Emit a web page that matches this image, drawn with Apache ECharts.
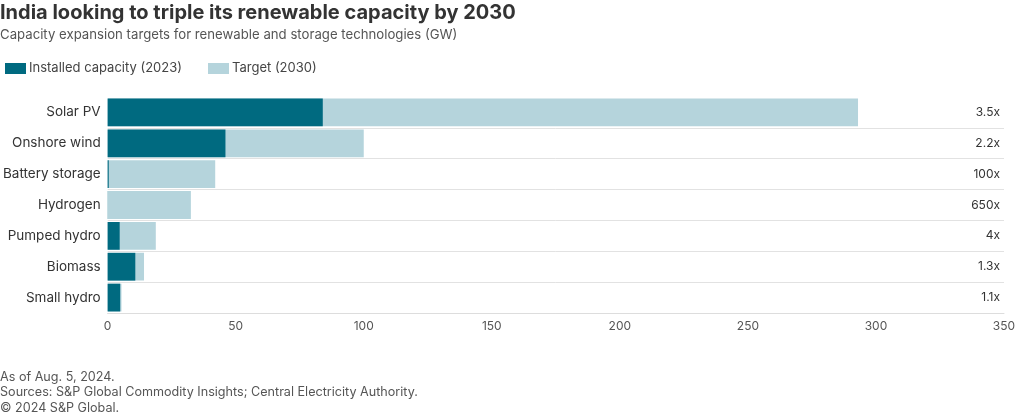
<!DOCTYPE html>
<html>
<head>
<meta charset="utf-8">
<script src="https://cdn.jsdelivr.net/npm/echarts@6/dist/echarts.min.js"></script>
<style>
html,body{margin:0;padding:0;background:#fff;}
#chart{width:1020px;height:415px;}
</style>
</head>
<body>
<div id="chart"></div>
<script>
const categories = ["Solar PV", "Onshore wind", "Battery storage", "Hydrogen", "Pumped hydro", "Biomass", "Small hydro"];
const installed2023 = [84, 46, 0.42, 0.05, 4.7, 10.8, 4.9];
const target2030 = [293, 100, 42, 32.5, 18.8, 14.2, 5.4];
const multipliers = ["3.5x", "2.2x", "100x", "650x", "4x", "1.3x", "1.1x"];
const xTicks = [0, 50, 100, 150, 200, 250, 300, 350];

const FONT = 'Inter, "Noto Sans", sans-serif';
const chart = echarts.init(document.getElementById('chart'));
chart.setOption({
  animation: false,
  textStyle: { fontFamily: FONT },
  title: [
    { text: 'India looking to triple its renewable capacity by 2030', left: -5, top: -2,
      textStyle: { fontSize: 20, fontWeight: 'bold', color: '#333', fontFamily: FONT } },
    { text: 'Capacity expansion targets for renewable and storage technologies (GW)', left: -5, top: 24,
      textStyle: { fontSize: 13.2, fontWeight: 'normal', color: '#555', fontFamily: FONT } },
    { text: 'As of Aug. 5, 2024.\nSources: S&P Global Commodity Insights; Central Electricity Authority.\n© 2024 S&P Global.',
      left: -5, top: 364,
      textStyle: { fontSize: 12.6, fontWeight: 'normal', color: '#555', lineHeight: 15.5, fontFamily: FONT } }
  ],
  legend: {
    left: 0, top: 57, itemWidth: 21, itemHeight: 11, itemGap: 26,
    icon: 'rect',
    data: ['Installed capacity (2023)', 'Target (2030)'],
    textStyle: { fontSize: 13, color: '#444', padding: [0, 0, 0, -2] }
  },
  grid: { left: 106, right: 16, top: 97, bottom: 102, containLabel: false },
  xAxis: {
    type: 'value', min: 0, max: 350, interval: 50,
    axisLine: { show: true, lineStyle: { color: '#ddd' } },
    axisTick: { show: false },
    splitLine: { show: false },
    axisLabel: { color: '#555', fontSize: 12, margin: 7,
      formatter: v => xTicks.includes(v) ? String(v) : '' }
  },
  yAxis: [
    {
      type: 'category', data: categories, inverse: true,
      axisLine: { show: false }, axisTick: { show: false },
      axisLabel: { color: '#333', fontSize: 13.5, margin: 7 },
      splitLine: { show: true, lineStyle: { color: '#e2e2e2', width: 1 },
        interval: (i) => i !== 0 }
    },
    {
      type: 'category', data: multipliers, inverse: true, position: 'right',
      axisLine: { show: false }, axisTick: { show: false }, splitLine: { show: false },
      axisLabel: { inside: true, color: '#333', fontSize: 12, margin: 4 }
    }
  ],
  series: [
    {
      name: 'Target (2030)', type: 'bar', data: target2030, yAxisIndex: 0,
      barCategoryGap: '10%', barGap: '-100%',
      itemStyle: { color: '#b5d4dc' }
    },
    {
      name: 'Installed capacity (2023)', type: 'bar', data: installed2023, yAxisIndex: 0,
      barCategoryGap: '10%', barGap: '-100%',
      itemStyle: { color: '#006a80' }
    }
  ]
});
</script>
</body>
</html>
